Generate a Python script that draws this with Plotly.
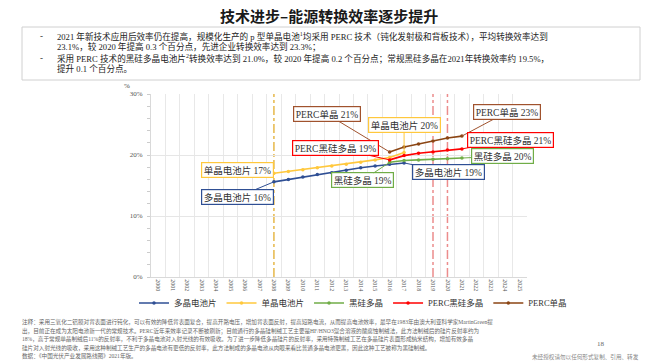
import plotly.graph_objects as go

# ---------------- data ----------------
years = list(range(2000, 2026))
year_labels = [str(y) for y in years]

poly_years = list(range(2008, 2018))
poly_cell = [15.6, 16.0, 16.4, 16.8, 17.1, 17.5, 17.9, 18.2, 18.5, 18.7]

mono_years = list(range(2008, 2018))
mono_cell = [17.0, 17.3, 17.6, 17.9, 18.2, 18.5, 18.8, 19.2, 19.6, 20.4]

new_years = list(range(2016, 2022))
black_poly = [18.8, 19.1, 19.2, 19.3, 19.4, 19.5]
perc_black_poly = [19.2, 19.9, 20.3, 20.5, 20.8, 21.0]
perc_mono = [20.5, 21.3, 21.8, 22.3, 22.8, 23.1]

series_names = ["多晶电池片", "单晶电池片", "黑硅多晶", "PERC黑硅多晶", "PERC单晶"]
y_ticks = [0, 10, 20, 30]
y_tick_labels = ["0%", "10%", "20%", "30%"]
milestone_years = [2008, 2019, 2020]

title_text = "技术进步–能源转换效率逐步提升"
bullet_lines = [
    "2021 年新技术应用后效率仍在提高，规模化生产的 p 型单晶电池<sup>1</sup>均采用 PERC 技术（钝化发射极和背板技术），平均转换效率达到",
    "23.1%，较 2020 年提高 0.3 个百分点，先进企业转换效率达到 23.3%；",
    "采用 PERC 技术的黑硅多晶电池片<sup>2</sup>转换效率达到 21.0%，较 2020 年提高 0.2 个百分点；常规黑硅多晶在2021年转换效率约 19.5%，",
    "提升 0.1 个百分点。",
]
foot_lines = [
    "注释：采用三氧化二铝膜对背表面进行钝化，可以有效的降低背表面复合，提高开路电压，增加背表面反射，提高短路电流，从而提高电池效率，最早在1983年由澳大利亚科学家MartinGreen提",
    "出，目前正在成为太阳电池新一代的常规技术。PERC近年来效率记录不断被刷新；目前通行的多晶硅制绒工艺主要是HF/HNO3混合溶液的酸腐蚀制绒法，此方法制绒后的硅片反射率约为",
    "18%，高于常规单晶制绒后11%的反射率，不利于多晶电池对入射光线的有效吸收。为了进一步降低多晶硅片的反射率，采用特殊制绒工艺在多晶硅片表面形成纳米结构，增加有效多晶",
    "硅片对入射光线的吸收，采用这种制绒工艺生产的多晶电池有更低的反射率，此方法制成的多晶电池从肉眼来看比普通多晶电池更黑，因此这种工艺被称为黑硅制绒。",
    "数据：《中国光伏产业发展路线图》2021年版。",
]

# ---------------- styling ----------------
W, H = 658, 362
L, R, T, B = 151, 527, 94, 277
SERIF = "Liberation Serif, Noto Sans CJK SC"
C_BLUE = "#2F4F94"
C_YEL = "#FFC83D"
C_GRN = "#70AD47"
C_RED = "#FF0000"
C_BRN = "#8B4513"


def px(x):
    return (x - L) / (R - L)


def py(y):
    return (B - y) / (B - T)


def text_at(x, y, text, size, color, xanchor="center", family=SERIF):
    fig.add_annotation(x=px(x), y=py(y), xref="paper", yref="paper", text=text,
                       showarrow=False, xanchor=xanchor, yanchor="middle",
                       font=dict(family=family, size=size, color=color))


fig = go.Figure()
specs = [
    (poly_years, poly_cell, C_BLUE),
    (mono_years, mono_cell, C_YEL),
    (new_years, black_poly, C_GRN),
    (new_years, perc_black_poly, C_RED),
    (new_years, perc_mono, C_BRN),
]
for name, (xs, ys, col) in zip(series_names, specs):
    fig.add_trace(go.Scatter(
        x=xs, y=ys, name=name, mode="lines+markers",
        line=dict(color=col, width=1.6),
        marker=dict(color=col, size=3.5),
    ))

# milestone vertical lines
for yr in milestone_years:
    col = "#E6B84A" if yr == 2008 else "#EC8C8C"
    fig.add_shape(type="line", x0=yr, x1=yr, y0=0, y1=30, xref="x", yref="y",
                  line=dict(color=col, width=1.5, dash="dashdot"), layer="below")

# labels with leader lines: (text, x, y, ax, ay, color)
labels = [
    ("单晶电池片 17%", mono_years[0], mono_cell[0], -36, -3, C_YEL),
    ("多晶电池片 16%", poly_years[0], poly_cell[0], -36, 15, C_BLUE),
    ("PERC单晶 21%", new_years[0], perc_mono[0], -63, -38, "#A0522D"),
    ("PERC黑硅多晶 19%", new_years[0], perc_black_poly[0], -54, -12, C_RED),
    ("单晶电池片 20%", mono_years[-1], mono_cell[-1], 0, -28, C_YEL),
    ("黑硅多晶 19%", new_years[0], black_poly[0], -27, 18, C_GRN),
    ("多晶电池片 19%", poly_years[-1], poly_cell[-1], 44, 9, C_BLUE),
    ("PERC单晶 23%", new_years[-1], perc_mono[-1], 45, -24, "#A0522D"),
    ("PERC黑硅多晶 21%", new_years[-1], perc_black_poly[-1], 49, -9, C_RED),
    ("黑硅多晶 20%", new_years[-1], black_poly[-1], 41, -2, C_GRN),
]
for text, x, y, ax, ay, col in labels:
    fig.add_annotation(
        x=x, y=y, xref="x", yref="y", text=text, showarrow=True,
        ax=ax, ay=ay, arrowhead=0, arrowwidth=1, arrowcolor=col,
        bordercolor=col, borderwidth=1.2, borderpad=1.5, bgcolor="white",
        font=dict(family=SERIF, size=9.5, color="#333333"),
    )

# title
text_at(W / 2, 15, f"<b>{title_text}</b>", 15, "#1a1a1a", family="Noto Sans CJK SC")

# bullet box
fig.add_shape(type="rect", xref="paper", yref="paper", x0=px(22), x1=px(640), y0=py(27), y1=py(80),
              line=dict(color="#D0D0D0", width=1), fillcolor="white", layer="below")
bullet_y = [36, 47, 58, 69]
for i, (txt, yy) in enumerate(zip(bullet_lines, bullet_y)):
    if i in (0, 2):
        text_at(38, yy, "-", 9, "#222", xanchor="left")
    text_at(55, yy, txt, 8.6, "#222", xanchor="left")

# % unit
text_at(127, 86, "%", 7, "#444")

# footnotes
foot_y = [322, 330.5, 339, 347.5, 356]
for txt, yy in zip(foot_lines, foot_y):
    text_at(20, yy, txt, 5.6, "#666", xanchor="left")
text_at(601, 344, "18", 7, "#666")
text_at(641, 357, "未经授权请勿以任何形式复制、引用、转发", 5.6, "#888", xanchor="right")

fig.update_layout(
    width=W, height=H,
    margin=dict(l=L, r=W - R, t=T, b=H - B, pad=0, autoexpand=False),
    paper_bgcolor="white", plot_bgcolor="white",
    showlegend=True,
    legend=dict(orientation="h", xref="paper", yref="paper",
                x=px(134), y=py(303), xanchor="left", yanchor="middle",
                font=dict(family=SERIF, size=8.5, color="#333"), itemwidth=30,
                bgcolor="rgba(0,0,0,0)", tracegroupgap=0),
    xaxis=dict(
        range=[1999.5, 2025.5], tickmode="array", tickvals=years, ticktext=year_labels,
        tickangle=90, tickfont=dict(family=SERIF, size=6, color="#555"),
        showgrid=False, zeroline=False, showline=True, linecolor="#D9D9D9", linewidth=1,
        ticks="", fixedrange=True,
        minor=dict(tick0=1999.5, dtick=1, showgrid=True, gridcolor="#E8E8E8", gridwidth=1),
    ),
    yaxis=dict(
        range=[0, 30], tickmode="array", tickvals=y_ticks, ticktext=y_tick_labels,
        tickfont=dict(family=SERIF, size=7, color="#555"),
        showgrid=True, gridcolor="#E6E6E6", gridwidth=1, zeroline=False,
        showline=True, linecolor="#D9D9D9", linewidth=1, ticks="", ticklabelstandoff=6,
        minor=dict(dtick=2, ticks="outside", ticklen=3, tickcolor="#CCCCCC", showgrid=False),
    ),
)

fig.write_html("out.html", config={"displayModeBar": False},
               post_script="document.body.style.margin='0';")
